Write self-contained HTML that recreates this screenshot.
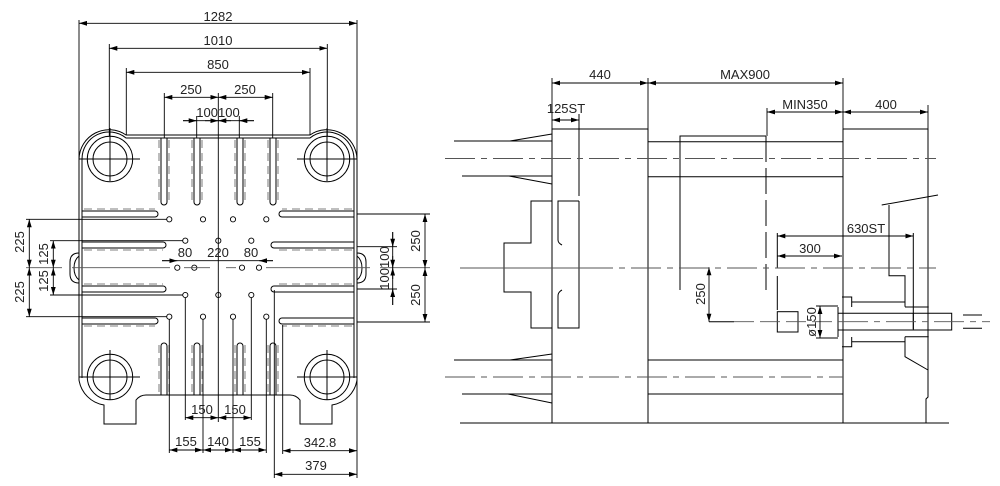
<!DOCTYPE html>
<html><head><meta charset="utf-8"><style>
html,body{margin:0;padding:0;background:#fff;}
svg{display:block;}
text{font-family:"Liberation Sans",sans-serif;font-size:13px;fill:#222;}
</style></head><body>
<svg width="1000" height="486" viewBox="0 0 1000 486" xmlns="http://www.w3.org/2000/svg">
<defs>
<marker id="a" viewBox="0 0 10 6" refX="10" refY="3" markerWidth="8" markerHeight="5" orient="auto-start-reverse" markerUnits="userSpaceOnUse"><path d="M0,0L10,3L0,6z" fill="#000"/></marker>
</defs>
<g stroke="#000" stroke-width="1" fill="none">
<!-- ===== LEFT VIEW ===== -->
<path d="M79,159 A30,30 0 0 1 126,135 L310,135 A30,30 0 0 1 357,159 L357,380 A30,30 0 0 1 332,405 L332,424 L300,424 L300,400 Q296,395 290,395 L146,395 Q140,395 136,400 L136,424 L104,424 L104,405 A30,30 0 0 1 79,380 Z"/>
<path d="M82,159 A27,27 0 0 1 126,138 L310,138 A27,27 0 0 1 354,159 L354,378 M82,159 L82,378"/>
<circle cx="110" cy="159" r="22.7"/><circle cx="110" cy="159" r="17"/>
<circle cx="327" cy="159" r="22.7"/><circle cx="327" cy="159" r="17"/>
<circle cx="110" cy="377" r="22.7"/><circle cx="110" cy="377" r="17"/>
<circle cx="327" cy="377" r="22.7"/><circle cx="327" cy="377" r="17"/>
<path d="M79,159H140M110,128V181M297,159H357M327,128V181M79,377H140M110,350V400M297,377H357M327,350V400"/>
<path d="M79,253 Q70,253 70,262 L70,274 Q70,283 79,283 M79,256 Q74,260 74,268 Q74,276 79,280"/>
<path d="M357,253 Q366,253 366,262 L366,274 Q366,283 357,283 M357,256 Q362,260 362,268 Q362,276 357,280"/>
<path d="M161,138V202A3,3 0 0 0 167,202V138M194,138V202A3,3 0 0 0 200,202V138M237,138V202A3,3 0 0 0 243,202V138M270,138V202A3,3 0 0 0 276,202V138"/>
<path d="M161,395V346A3,3 0 0 1 167,346V395M194,395V346A3,3 0 0 1 200,346V395M237,395V346A3,3 0 0 1 243,346V395M270,395V346A3,3 0 0 1 276,346V395"/>
<path d="M82,211H155A3,3 0 0 1 155,217H82M82,242H163A3,3 0 0 1 163,248H82M82,286H163A3,3 0 0 1 163,292H82M82,318H155A3,3 0 0 1 155,324H82"/>
<path d="M354,211H282A3,3 0 0 0 282,217H354M354,242H274A3,3 0 0 0 274,248H354M354,286H274A3,3 0 0 0 274,292H354M354,318H282A3,3 0 0 0 282,324H354"/>
<g stroke-width="0.9">
<circle cx="169.3" cy="219.3" r="2.6"/><circle cx="203" cy="219.3" r="2.6"/><circle cx="233" cy="219.3" r="2.6"/><circle cx="266.3" cy="219.3" r="2.6"/>
<circle cx="185.3" cy="240.7" r="2.6"/><circle cx="218.3" cy="240.7" r="2.6"/><circle cx="251.3" cy="240.7" r="2.6"/>
<circle cx="177.3" cy="267.7" r="2.6"/><circle cx="194.3" cy="267.7" r="2.6"/><circle cx="242" cy="267.7" r="2.6"/><circle cx="259" cy="267.7" r="2.6"/>
<circle cx="185.3" cy="295" r="2.6"/><circle cx="218.3" cy="295" r="2.6"/><circle cx="251.3" cy="295" r="2.6"/>
<circle cx="169.3" cy="316.7" r="2.6"/><circle cx="203" cy="316.7" r="2.6"/><circle cx="233" cy="316.7" r="2.6"/><circle cx="266.3" cy="316.7" r="2.6"/>
</g>
</g>
<g stroke="#999" stroke-width="1.3" stroke-dasharray="8,5" fill="none">
<path d="M159,140V200M169,140V200M192,140V200M202,140V200M235,140V200M245,140V200M268,140V200M278,140V200"/>
<path d="M159,345V394M169,345V394M192,345V394M202,345V394M235,345V394M245,345V394M268,345V394M278,345V394"/>
<path d="M84,209H155M84,250H163M84,284H163M84,326H155M352,209H282M352,250H274M352,284H274M352,326H282"/>
</g>
<g stroke="#000" stroke-width="0.9" fill="none">
<path d="M218.3,93V422"/>
<path d="M26,267.7H62M72,267.7H170M184,267.7H210M226,267.7H236M266,267.7H370M380,267.7H430" stroke="#555"/>
<path d="M79,20V159M357,20V159M109.3,44V136M327.3,44V136M126.3,68V135M310,68V135M164.3,93V138M272.7,93V138M196.7,116V138M239.3,116V138"/>
<path d="M26,219.3H167M26,316.7H167M50,240.7H183M50,295H183"/>
<path d="M357,214H430M357,322H430M357,246.7H397M357,289H397"/>
<path d="M185.3,298V420M251.3,298V420M169.3,319V453M203,319V453M233,319V453M266.3,319V453M282.7,325V454M274.3,290V478M357,380V478"/>
</g>
<g stroke="#000" stroke-width="0.9" fill="none">
<line x1="79" y1="23.3" x2="357" y2="23.3" marker-start="url(#a)" marker-end="url(#a)"/>
<line x1="109.3" y1="48.3" x2="327.3" y2="48.3" marker-start="url(#a)" marker-end="url(#a)"/>
<line x1="126.3" y1="72.3" x2="310" y2="72.3" marker-start="url(#a)" marker-end="url(#a)"/>
<line x1="164.3" y1="97.3" x2="218.3" y2="97.3" marker-start="url(#a)" marker-end="url(#a)"/>
<line x1="218.3" y1="97.3" x2="272.7" y2="97.3" marker-start="url(#a)" marker-end="url(#a)"/>
<path d="M183,120.7H254"/>
<line x1="183" y1="120.7" x2="196.7" y2="120.7" marker-end="url(#a)"/>
<line x1="254" y1="120.7" x2="239.3" y2="120.7" marker-end="url(#a)"/>
<line x1="205" y1="120.7" x2="218.3" y2="120.7" marker-end="url(#a)"/>
<line x1="231" y1="120.7" x2="218.3" y2="120.7" marker-end="url(#a)"/>
<line x1="29.3" y1="219.3" x2="29.3" y2="267.7" marker-start="url(#a)" marker-end="url(#a)"/>
<line x1="29.3" y1="267.7" x2="29.3" y2="316.7" marker-start="url(#a)" marker-end="url(#a)"/>
<line x1="53.3" y1="240.7" x2="53.3" y2="267.7" marker-start="url(#a)" marker-end="url(#a)"/>
<line x1="53.3" y1="267.7" x2="53.3" y2="295" marker-start="url(#a)" marker-end="url(#a)"/>
<line x1="425" y1="214" x2="425" y2="268" marker-start="url(#a)" marker-end="url(#a)"/>
<line x1="425" y1="268" x2="425" y2="322" marker-start="url(#a)" marker-end="url(#a)"/>
<path d="M392.7,232V305"/>
<line x1="392.7" y1="232" x2="392.7" y2="246.7" marker-end="url(#a)"/>
<line x1="392.7" y1="256" x2="392.7" y2="267.7" marker-end="url(#a)"/>
<line x1="392.7" y1="279" x2="392.7" y2="267.7" marker-end="url(#a)"/>
<line x1="392.7" y1="305" x2="392.7" y2="289" marker-end="url(#a)"/>
<path d="M162,260.7H273"/>
<line x1="162" y1="260.7" x2="177.3" y2="260.7" marker-end="url(#a)"/>
<line x1="273" y1="260.7" x2="259" y2="260.7" marker-end="url(#a)"/>
<line x1="185.3" y1="417.7" x2="218.3" y2="417.7" marker-start="url(#a)" marker-end="url(#a)"/>
<line x1="218.3" y1="417.7" x2="251.3" y2="417.7" marker-start="url(#a)" marker-end="url(#a)"/>
<line x1="169.3" y1="450" x2="203" y2="450" marker-start="url(#a)" marker-end="url(#a)"/>
<line x1="203" y1="450" x2="233" y2="450" marker-start="url(#a)" marker-end="url(#a)"/>
<line x1="233" y1="450" x2="266.3" y2="450" marker-start="url(#a)" marker-end="url(#a)"/>
<line x1="282.7" y1="450.7" x2="357" y2="450.7" marker-start="url(#a)" marker-end="url(#a)"/>
<line x1="274.3" y1="474.3" x2="357" y2="474.3" marker-start="url(#a)" marker-end="url(#a)"/>
</g>
<g text-anchor="middle">
<text x="218" y="21">1282</text>
<text x="218" y="45">1010</text>
<text x="218" y="69">850</text>
<text x="191" y="94">250</text>
<text x="245" y="94">250</text>
<text x="218" y="117">100100</text>
<text x="185" y="257">80</text>
<text x="218" y="257">220</text>
<text x="251" y="257">80</text>
<text x="202" y="414">150</text>
<text x="235" y="414">150</text>
<text x="186" y="446">155</text>
<text x="218" y="446">140</text>
<text x="250" y="446">155</text>
<text x="320" y="447">342.8</text>
<text x="316" y="470">379</text>
<text transform="translate(24,242) rotate(-90)">225</text>
<text transform="translate(24,292) rotate(-90)">225</text>
<text transform="translate(48,254) rotate(-90)">125</text>
<text transform="translate(48,281) rotate(-90)">125</text>
<text transform="translate(420,241) rotate(-90)">250</text>
<text transform="translate(420,295) rotate(-90)">250</text>
<text transform="translate(389,268) rotate(-90)">100100</text>
</g>

<!-- ===== RIGHT VIEW ===== -->
<g stroke="#000" stroke-width="1" fill="none">
<rect x="552" y="129" width="96" height="294"/>
<path d="M843,129H928V397L926,399V423M843,129V423"/>
<path d="M460,423H949"/>
<path d="M454,141H552M462,176H552M648,141.7H843M648,176.7H843M454,360H552M462,394H552M648,360H843M648,394H843"/>
<path d="M510,141L552,134M509,176L552,184M510,360L552,354M508,394L552,403"/>
<path d="M680,290V136H766"/>
<path d="M766,136V290" stroke-dasharray="26,6"/>
<path d="M552,201H531V243H504V292H531V328H552"/>
<path d="M579,201H558V240Q558,243 562,245M562,290Q558,292 558,296V328H579V201"/>
<path d="M579,114V196"/>
<path d="M709,321.7H734"/>
<path d="M777.3,233V268M777.3,276V310"/>
<rect x="777.3" y="311.7" width="20.7" height="20.3"/>
<path d="M913.3,233V329"/>
<path d="M881.7,205L938,195M889,205V275.7H905V306.7"/>
<path d="M851.7,302H905M851.7,341.7H905"/>
<path d="M842,297H851.7V307M842,346.7H851.7V337"/>
<path d="M905,307H928.7M905,336.7H928.7"/>
<path d="M905,336.7V356.7L928,370"/>
<path d="M838,307V337M838,313.3H951.7V330H838M963,315H982M963,328.3H982"/>
<path d="M913.3,313.3V330"/>
</g>
<g stroke="#555" stroke-width="0.9" fill="none">
<path d="M445,158.5H936" stroke-dasharray="30,6,6,6"/>
<path d="M445,377H843" stroke-dasharray="30,6,6,6"/>
<path d="M460,268H583"/>
<path d="M583,268H936" stroke-dasharray="30,6,6,6"/>
<path d="M734,321.7H838" stroke-dasharray="20,6"/>
<path d="M838,321.7H990" stroke-dasharray="30,6,6,6"/>
</g>
<g stroke="#000" stroke-width="0.9" fill="none">
<path d="M552,78V129M648,78V129M843,78V129M767,108V136M928,105V129"/>
<line x1="552" y1="83" x2="648" y2="83" marker-start="url(#a)" marker-end="url(#a)"/>
<line x1="648" y1="83" x2="843" y2="83" marker-start="url(#a)" marker-end="url(#a)"/>
<line x1="552" y1="120" x2="579" y2="120" marker-start="url(#a)" marker-end="url(#a)"/>
<line x1="767" y1="112" x2="843" y2="112" marker-start="url(#a)" marker-end="url(#a)"/>
<line x1="843" y1="112" x2="928" y2="112" marker-start="url(#a)" marker-end="url(#a)"/>
<line x1="709" y1="267.3" x2="709" y2="321.7" marker-start="url(#a)" marker-end="url(#a)"/>
<line x1="777.3" y1="236" x2="913.3" y2="236" marker-start="url(#a)" marker-end="url(#a)"/>
<line x1="777.3" y1="256" x2="842" y2="256" marker-start="url(#a)" marker-end="url(#a)"/>
<line x1="820" y1="306" x2="820" y2="338" marker-start="url(#a)" marker-end="url(#a)"/>
<path d="M816,306H838M816,338H838"/>
</g>
<g text-anchor="middle">
<text x="600" y="79">440</text>
<text x="745" y="79">MAX900</text>
<text x="566" y="113">125ST</text>
<text x="805" y="109">MIN350</text>
<text x="886" y="109">400</text>
<text x="866" y="233">630ST</text>
<text x="810" y="253">300</text>
<text transform="translate(705,294) rotate(-90)">250</text>
<text transform="translate(816,322) rotate(-90)">ø150</text>
</g>
</svg>
</body></html>
